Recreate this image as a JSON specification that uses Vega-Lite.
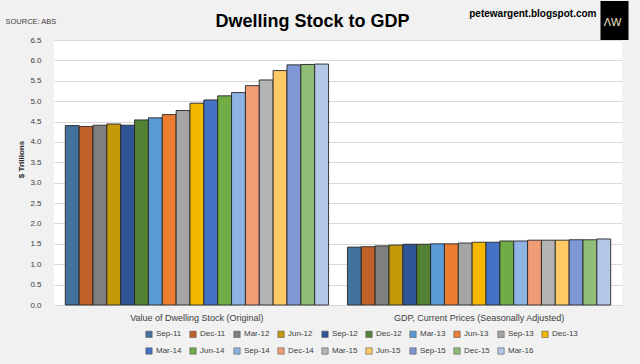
{
  "$schema": "https://vega.github.io/schema/vega-lite/v6.json",
  "width": 568,
  "height": 265,
  "autosize": {"type": "none"},
  "padding": {"left": 54, "right": 18, "top": 40, "bottom": 59},
  "background": "#f1f1f1",
  "config": {
    "font": "Liberation Sans",
    "view": {"fill": "white", "stroke": null},
    "axis": {"tickSize": 0}
  },
  "data": {
    "values": [
      {"series": "Value of Dwelling Stock (Original)", "quarter": "Sep-11", "value": 4.40},
      {"series": "Value of Dwelling Stock (Original)", "quarter": "Dec-11", "value": 4.38},
      {"series": "Value of Dwelling Stock (Original)", "quarter": "Mar-12", "value": 4.41},
      {"series": "Value of Dwelling Stock (Original)", "quarter": "Jun-12", "value": 4.44},
      {"series": "Value of Dwelling Stock (Original)", "quarter": "Sep-12", "value": 4.41},
      {"series": "Value of Dwelling Stock (Original)", "quarter": "Dec-12", "value": 4.54},
      {"series": "Value of Dwelling Stock (Original)", "quarter": "Mar-13", "value": 4.59},
      {"series": "Value of Dwelling Stock (Original)", "quarter": "Jun-13", "value": 4.67},
      {"series": "Value of Dwelling Stock (Original)", "quarter": "Sep-13", "value": 4.77},
      {"series": "Value of Dwelling Stock (Original)", "quarter": "Dec-13", "value": 4.95},
      {"series": "Value of Dwelling Stock (Original)", "quarter": "Mar-14", "value": 5.03},
      {"series": "Value of Dwelling Stock (Original)", "quarter": "Jun-14", "value": 5.13},
      {"series": "Value of Dwelling Stock (Original)", "quarter": "Sep-14", "value": 5.21},
      {"series": "Value of Dwelling Stock (Original)", "quarter": "Dec-14", "value": 5.38},
      {"series": "Value of Dwelling Stock (Original)", "quarter": "Mar-15", "value": 5.52},
      {"series": "Value of Dwelling Stock (Original)", "quarter": "Jun-15", "value": 5.75},
      {"series": "Value of Dwelling Stock (Original)", "quarter": "Sep-15", "value": 5.89},
      {"series": "Value of Dwelling Stock (Original)", "quarter": "Dec-15", "value": 5.90},
      {"series": "Value of Dwelling Stock (Original)", "quarter": "Mar-16", "value": 5.91},
      {"series": "GDP, Current Prices (Seasonally Adjusted)", "quarter": "Sep-11", "value": 1.42},
      {"series": "GDP, Current Prices (Seasonally Adjusted)", "quarter": "Dec-11", "value": 1.43},
      {"series": "GDP, Current Prices (Seasonally Adjusted)", "quarter": "Mar-12", "value": 1.45},
      {"series": "GDP, Current Prices (Seasonally Adjusted)", "quarter": "Jun-12", "value": 1.47},
      {"series": "GDP, Current Prices (Seasonally Adjusted)", "quarter": "Sep-12", "value": 1.49},
      {"series": "GDP, Current Prices (Seasonally Adjusted)", "quarter": "Dec-12", "value": 1.49},
      {"series": "GDP, Current Prices (Seasonally Adjusted)", "quarter": "Mar-13", "value": 1.50},
      {"series": "GDP, Current Prices (Seasonally Adjusted)", "quarter": "Jun-13", "value": 1.50},
      {"series": "GDP, Current Prices (Seasonally Adjusted)", "quarter": "Sep-13", "value": 1.52},
      {"series": "GDP, Current Prices (Seasonally Adjusted)", "quarter": "Dec-13", "value": 1.54},
      {"series": "GDP, Current Prices (Seasonally Adjusted)", "quarter": "Mar-14", "value": 1.54},
      {"series": "GDP, Current Prices (Seasonally Adjusted)", "quarter": "Jun-14", "value": 1.57},
      {"series": "GDP, Current Prices (Seasonally Adjusted)", "quarter": "Sep-14", "value": 1.57},
      {"series": "GDP, Current Prices (Seasonally Adjusted)", "quarter": "Dec-14", "value": 1.59},
      {"series": "GDP, Current Prices (Seasonally Adjusted)", "quarter": "Mar-15", "value": 1.59},
      {"series": "GDP, Current Prices (Seasonally Adjusted)", "quarter": "Jun-15", "value": 1.59},
      {"series": "GDP, Current Prices (Seasonally Adjusted)", "quarter": "Sep-15", "value": 1.60},
      {"series": "GDP, Current Prices (Seasonally Adjusted)", "quarter": "Dec-15", "value": 1.60},
      {"series": "GDP, Current Prices (Seasonally Adjusted)", "quarter": "Mar-16", "value": 1.62}
    ]
  },
  "resolve": {"axis": {"x": "independent", "y": "independent"}},
  "layer": [
    {
      "mark": {"type": "bar", "stroke": "#262626", "strokeWidth": 0.9},
      "encoding": {
        "x": {
          "field": "series", "type": "nominal",
          "sort": ["Value of Dwelling Stock (Original)", "GDP, Current Prices (Seasonally Adjusted)"],
          "scale": {"paddingInner": 0.067, "paddingOuter": 0.04},
          "axis": {
            "orient": "bottom", "title": null, "ticks": false, "domain": true, "domainColor": "#d9d9d9",
            "labelPadding": 8, "labelFontSize": 9, "labelColor": "#404040", "labelAngle": 0, "grid": false, "labelLimit": 0
          }
        },
        "xOffset": {
          "field": "quarter", "type": "nominal",
          "sort": ["Sep-11","Dec-11","Mar-12","Jun-12","Sep-12","Dec-12","Mar-13","Jun-13","Sep-13","Dec-13","Mar-14","Jun-14","Sep-14","Dec-14","Mar-15","Jun-15","Sep-15","Dec-15","Mar-16"],
          "scale": {"paddingInner": 0, "paddingOuter": 0}
        },
        "y": {
          "field": "value", "type": "quantitative", "stack": null,
          "scale": {"domain": [0, 6.5], "nice": false},
          "axis": {
            "orient": "left", "values": [0, 0.5, 1, 1.5, 2, 2.5, 3, 3.5, 4, 4.5, 5, 5.5, 6, 6.5], "format": ".1f",
            "grid": true, "gridColor": "#d9d9d9", "gridWidth": 1, "domain": false, "ticks": false,
            "labelPadding": 13, "labelFontSize": 8, "labelColor": "#404040",
            "title": "$ Trillions", "titleFontSize": 8, "titleFontWeight": "bold", "titleColor": "#262626",
            "titleX": -33, "titleY": 119, "titleAngle": -90, "titleAlign": "center", "titleBaseline": "middle"
          }
        },
        "color": {
          "field": "quarter", "type": "nominal",
          "scale": {
            "domain": ["Sep-11","Dec-11","Mar-12","Jun-12","Sep-12","Dec-12","Mar-13","Jun-13","Sep-13","Dec-13","Mar-14","Jun-14","Sep-14","Dec-14","Mar-15","Jun-15","Sep-15","Dec-15","Mar-16"],
            "range": ["#41719C","#BF6128","#7F7F7F","#C49A0A","#2F5597","#548235","#5B9BD5","#ED7D31","#A5A5A5","#F5B800","#4472C4","#70AD47","#8EB4E3","#F09D76","#B4B4B4","#FFC966","#7F98D5","#90BE76","#B4C7E7"]
          },
          "legend": {
            "orient": "none", "legendX": 91, "legendY": 290, "direction": "horizontal", "columns": 10, "title": null,
            "symbolType": "square", "symbolSize": 40, "symbolStrokeColor": "#595959", "symbolStrokeWidth": 0.6,
            "labelFontSize": 8, "labelColor": "#404040", "rowPadding": 7, "columnPadding": 6,
            "labelOffset": 3, "padding": 0
          }
        }
      }
    },
    {
      "mark": {"type": "bar", "opacity": 0},
      "encoding": {
        "x": {
          "field": "series", "type": "nominal",
          "sort": ["Value of Dwelling Stock (Original)", "GDP, Current Prices (Seasonally Adjusted)"],
          "axis": {
            "orient": "top", "labels": false, "ticks": false, "domain": false, "grid": false,
            "title": "Dwelling Stock to GDP", "titleX": 258, "titleY": -14, "titleAlign": "center",
            "titleBaseline": "alphabetic", "titleFontSize": 18, "titleFontWeight": "bold", "titleColor": "#000000"
          }
        },
        "y": {
          "field": "value", "type": "quantitative", "stack": null,
          "axis": {
            "orient": "right", "values": [6.5], "labels": false, "domain": false, "grid": false,
            "ticks": true, "tickSize": 28, "tickWidth": 39, "tickColor": "#000000", "tickCap": "butt",
            "offset": -22, "tickOffset": -20.5,
            "title": "ΛW", "titleX": 12, "titleY": -15, "titleAngle": 0, "titleAlign": "center",
            "titleBaseline": "alphabetic", "titleFontSize": 11, "titleFontWeight": "normal", "titleColor": "#efe4c4"
          }
        }
      }
    },
    {
      "mark": {"type": "bar", "opacity": 0},
      "encoding": {
        "x": {
          "field": "series", "type": "nominal",
          "sort": ["Value of Dwelling Stock (Original)", "GDP, Current Prices (Seasonally Adjusted)"],
          "axis": {
            "orient": "top", "labels": false, "ticks": false, "domain": false, "grid": false,
            "title": "petewargent.blogspot.com", "titleX": 542, "titleY": -24, "titleAlign": "right",
            "titleBaseline": "alphabetic", "titleFontSize": 10, "titleFontWeight": "bold", "titleColor": "#000000"
          }
        },
        "y": {
          "field": "value", "type": "quantitative", "stack": null,
          "axis": {
            "orient": "left", "labels": false, "ticks": false, "domain": false, "grid": false,
            "title": "SOURCE: ABS", "titleX": -49, "titleY": -17, "titleAngle": 0, "titleAlign": "left",
            "titleBaseline": "alphabetic", "titleFontSize": 7.5, "titleFontWeight": "normal", "titleColor": "#404040"
          }
        }
      }
    }
  ]
}
